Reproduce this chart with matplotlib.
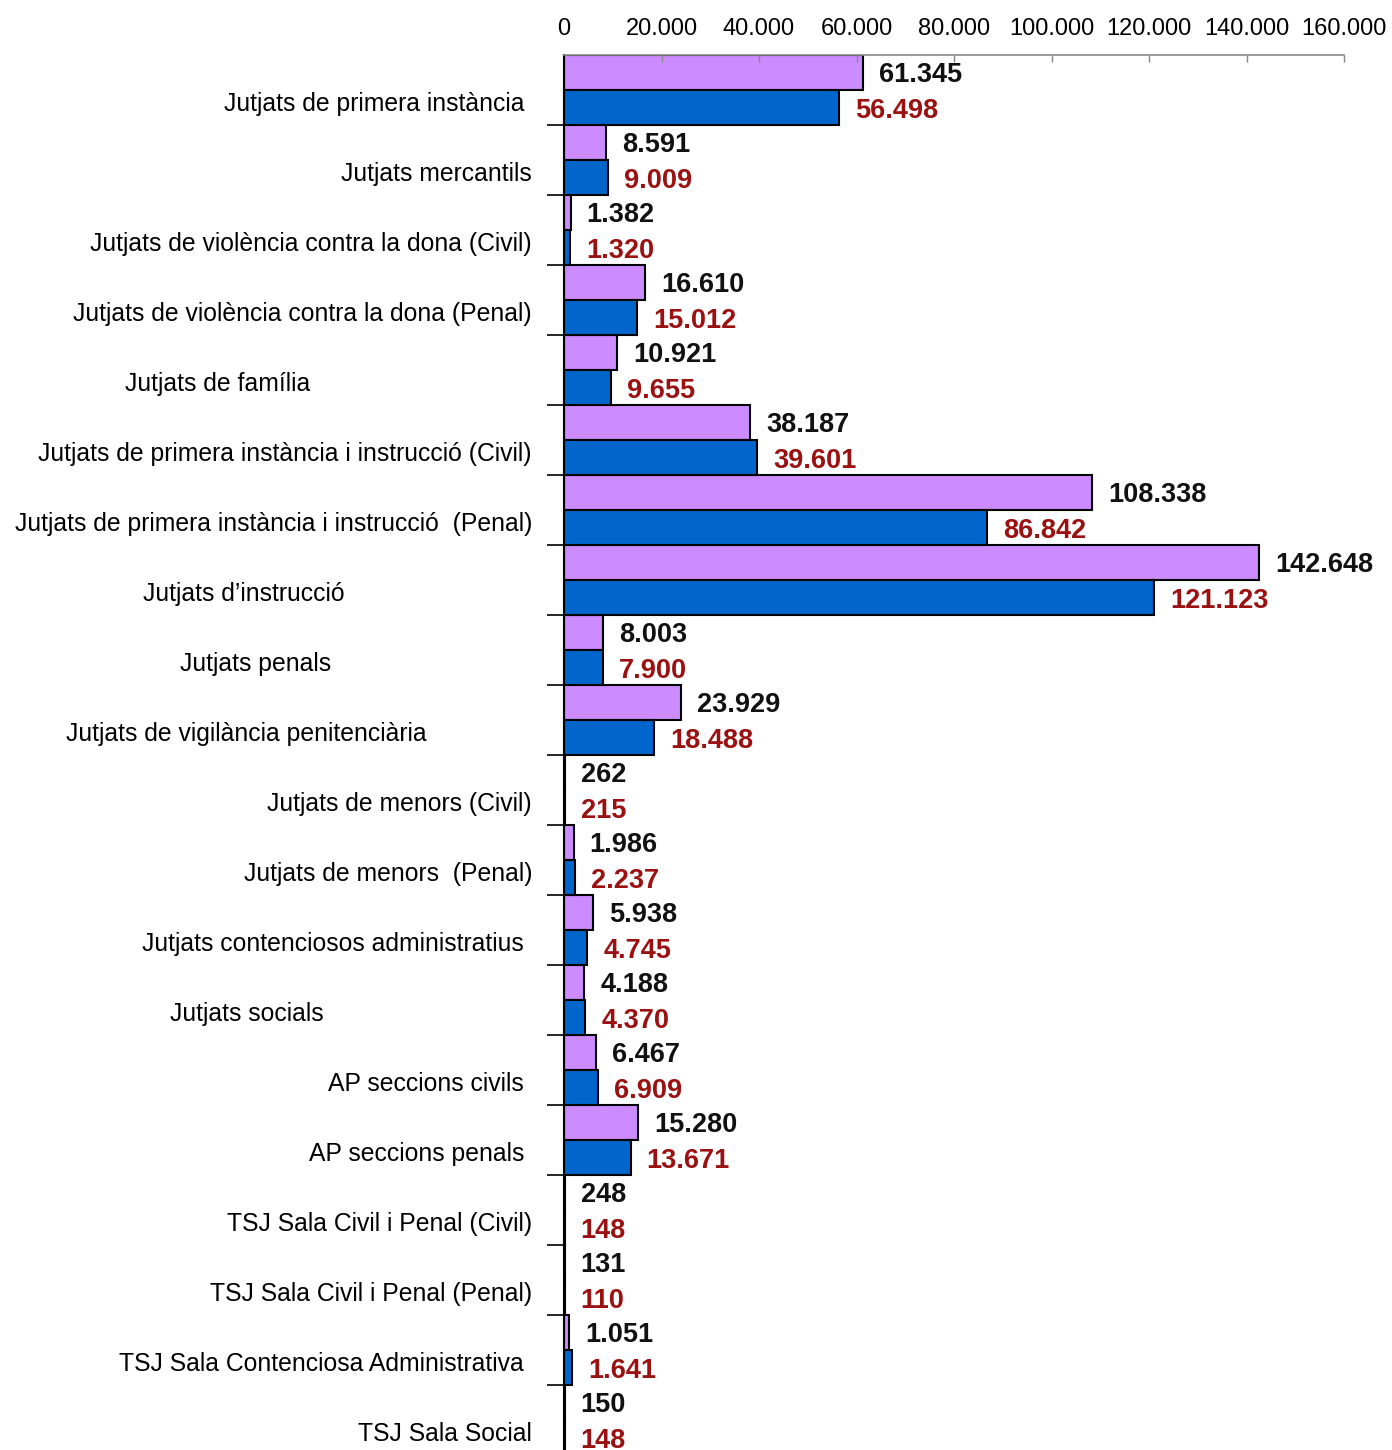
import matplotlib
matplotlib.use("Agg")
import matplotlib.pyplot as plt
from matplotlib.ticker import FuncFormatter, FixedLocator

categories = [
    "Jutjats de primera instància",
    "Jutjats mercantils",
    "Jutjats de violència contra la dona (Civil)",
    "Jutjats de violència contra la dona (Penal)",
    "Jutjats de família",
    "Jutjats de primera instància i instrucció (Civil)",
    "Jutjats de primera instància i instrucció  (Penal)",
    "Jutjats d\u2019instrucció",
    "Jutjats penals",
    "Jutjats de vigilància penitenciària",
    "Jutjats de menors (Civil)",
    "Jutjats de menors  (Penal)",
    "Jutjats contenciosos administratius",
    "Jutjats socials",
    "AP seccions civils",
    "AP seccions penals",
    "TSJ Sala Civil i Penal (Civil)",
    "TSJ Sala Civil i Penal (Penal)",
    "TSJ Sala Contenciosa Administrativa",
    "TSJ Sala Social",
]
series_a = [61345, 8591, 1382, 16610, 10921, 38187, 108338, 142648, 8003, 23929,
            262, 1986, 5938, 4188, 6467, 15280, 248, 131, 1051, 150]
series_b = [56498, 9009, 1320, 15012, 9655, 39601, 86842, 121123, 7900, 18488,
            215, 2237, 4745, 4370, 6909, 13671, 148, 110, 1641, 148]
x_ticks = [0, 20000, 40000, 60000, 80000, 100000, 120000, 140000, 160000]

# label right-edge gaps from axis (pixels) -- layout only
label_gap_px = [40, 32, 32, 32, 254, 32, 32, 219, 233, 137, 32, 32, 40, 240, 40, 40, 32, 32, 40, 32]

def fmt(v):
    return f"{int(v):,}".replace(",", ".")

W, H = 1392, 1450
DPI = 100
fig = plt.figure(figsize=(W / DPI, H / DPI), dpi=DPI)
px = 72.0 / DPI

x0, x1 = 564, 1344
ytop = 55
cat_h = 70
n = len(categories)
ybot = ytop + cat_h * n
ax = fig.add_axes([x0 / W, 1 - ybot / H, (x1 - x0) / W, (ybot - ytop) / H])

purple = "#CC8CFF"
blue = "#0066CC"
red = "#9B1111"

ys = list(range(n))
ax.barh([y + 0.25 for y in ys], series_a, height=0.5, color=purple,
        edgecolor="black", linewidth=1.5)
ax.barh([y + 0.75 for y in ys], series_b, height=0.5, color=blue,
        edgecolor="black", linewidth=1.5)

ax.set_xlim(0, 160000)
ax.set_ylim(n, 0)

val_font = dict(family=["Liberation Sans", "DejaVu Sans"], fontsize=19.5, fontweight="bold")
for i, (a, b) in enumerate(zip(series_a, series_b)):
    ax.annotate(fmt(a), xy=(a, i + 0.25), xytext=(16 * px, -3 * px), textcoords="offset points",
                ha="left", va="center", color="#111111", **val_font)
    ax.annotate(fmt(b), xy=(b, i + 0.75), xytext=(16 * px, -3.5 * px), textcoords="offset points",
                ha="left", va="center", color=red, **val_font)

cat_font = dict(family=["Liberation Sans", "DejaVu Sans"], fontsize=17.8)
for i, lab in enumerate(categories):
    ax.annotate(lab, xy=(0, i + 0.5), xycoords=ax.get_yaxis_transform(),
                xytext=(-label_gap_px[i] * px, -14 * px), textcoords="offset points",
                ha="right", va="center", color="black", **cat_font)

# axes styling
ax.xaxis.tick_top()
ax.xaxis.set_major_locator(FixedLocator(x_ticks))
ax.xaxis.set_major_formatter(FuncFormatter(lambda v, p: fmt(v)))
for lab in ax.get_xticklabels():
    lab.set_family(["Liberation Sans", "DejaVu Sans"])
ax.tick_params(axis="x", which="major", direction="in", length=5, width=1,
               color="#888888", pad=11, labelsize=17, labelcolor="black")
ax.yaxis.set_major_locator(FixedLocator(list(range(1, n))))
ax.set_yticklabels([])
ax.tick_params(axis="y", direction="out", length=12, width=1.2, color="black")

for s in ["right", "bottom"]:
    ax.spines[s].set_visible(False)
ax.spines["top"].set_color("#888888")
ax.spines["top"].set_linewidth(1.2)
ax.spines["left"].set_color("black")
ax.spines["left"].set_linewidth(1.5)
ax.patch.set_alpha(0)

fig.savefig("out.png", dpi=DPI)
